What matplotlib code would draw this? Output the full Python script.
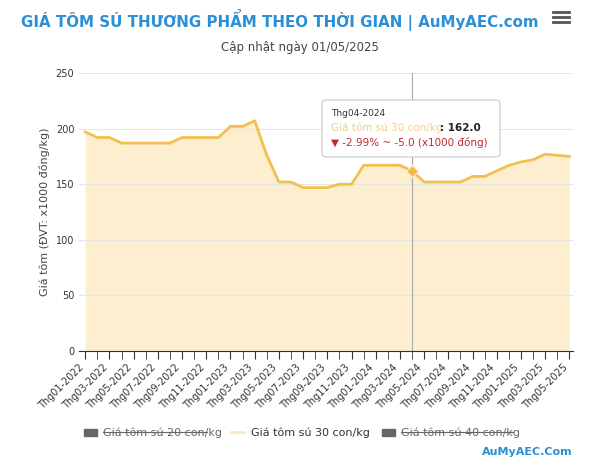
import matplotlib
matplotlib.use("Agg")
import matplotlib.pyplot as plt
from matplotlib.patches import FancyBboxPatch

months = [f"Thg{m:02d}-{y}" for y in (2022, 2023, 2024, 2025) for m in range(1, 13)][:41]
price30 = [197, 192, 192, 187, 187, 187, 187, 187, 192, 192, 192, 192,
           202, 202, 207, 176, 152, 152, 147, 147, 147, 150, 150, 167,
           167, 167, 167, 162, 152, 152, 152, 152, 157, 157, 162, 167,
           170, 172, 177, 176, 175]
yticks = [0, 50, 100, 150, 200, 250]

W, H = 600, 465
fig = plt.figure(figsize=(6, 4.65), dpi=100)
ax = fig.add_axes([0.132, 0.245, 0.823, 0.598])
x = list(range(len(months)))
ax.fill_between(x, price30, 0, color="#fde9bf", alpha=0.75, lw=0)
ax.plot(x, price30, color="#f2c04f", lw=2)
ax.plot([27], [price30[27]], marker="D", ms=6, color="#f2b844", mec="#fde9bf", zorder=3)
ax.axvline(27, color="#aaaaaa", lw=0.8)
ax.set_xlim(-0.5, 40.3)
ax.set_ylim(0, 250)
ax.set_yticks(yticks)
ax.set_xticks(x[::2])
ax.set_xticklabels(months[::2], rotation=45, ha="right", fontsize=7, color="#333333")
ax.set_xticks(x, minor=True)
ax.tick_params(axis="x", which="both", length=6, color="#333333", pad=2)
ax.tick_params(axis="y", length=0, labelsize=7, colors="#333333")
ax.grid(axis="y", color="#e6e6e6", lw=0.8)
for s in ("top", "right", "left"):
    ax.spines[s].set_visible(False)
ax.spines["bottom"].set_color("#333333")
ax.set_ylabel("Giá tôm (ĐVT: x1000 đồng/kg)", fontsize=8, color="#444444")

fig.text(0.035, 0.957, "GIÁ TÔM SÚ THƯƠNG PHẨM THEO THỜI GIAN | AuMyAEC.com",
         fontsize=10.8, fontweight="bold", color="#2a8fd6", va="center")
fig.text(0.5, 0.897, "Cập nhật ngày 01/05/2025", fontsize=8.5, color="#444444", ha="center", va="center")
for dy in (0.0, 0.011, 0.022):
    fig.add_artist(plt.Line2D([0.922, 0.948], [0.952 + dy, 0.952 + dy], color="#555555", lw=2))

# tooltip (figure pixel coords converted)
def fx(px): return px / W
def fy(py): return 1 - py / H
box = FancyBboxPatch((fx(322), fy(157)), fx(500) - fx(322), fy(100) - fy(157),
                     boxstyle="round,pad=0,rounding_size=0.008", fc="white", ec="#c8c8c8",
                     lw=0.8, transform=fig.transFigure, zorder=10)
fig.add_artist(box)
fig.text(fx(331), fy(114), "Thg04-2024", fontsize=6.5, color="#333333", va="center", zorder=11)
t = fig.text(fx(331), fy(128), "Giá tôm sú 30 con/kg", fontsize=7.5, color="#f2cf8a", va="center", zorder=11)
fig.text(fx(440), fy(128), ": 162.0", fontsize=7.5, color="#222222", fontweight="bold", va="center", zorder=11)
fig.text(fx(331), fy(142), "▼ -2.99% ~ -5.0 (x1000 đồng)", fontsize=7.5, color="#c0282d", va="center", zorder=11)

# legend
ly = 0.07
fig.add_artist(plt.Rectangle((0.14, ly - 0.007), 0.022, 0.014, color="#666666"))
fig.text(0.172, ly, "Giá tôm sú 20 con/kg", fontsize=8, color="#666666", va="center")
fig.add_artist(plt.Line2D([0.172, 0.345], [ly, ly], color="#666666", lw=0.8))
fig.add_artist(plt.Line2D([0.385, 0.407], [ly, ly], color="#fde9bf", lw=2))
fig.text(0.418, ly, "Giá tôm sú 30 con/kg", fontsize=8, color="#333333", va="center")
fig.add_artist(plt.Rectangle((0.637, ly - 0.007), 0.022, 0.014, color="#666666"))
fig.text(0.668, ly, "Giá tôm sú 40 con/kg", fontsize=8, color="#666666", va="center")
fig.add_artist(plt.Line2D([0.668, 0.855], [ly, ly], color="#666666", lw=0.8))
fig.text(0.955, 0.028, "AuMyAEC.Com", fontsize=8, fontweight="bold", color="#2a8fd6", ha="right", va="center")

fig.savefig("out.png", dpi=100, facecolor="white")
